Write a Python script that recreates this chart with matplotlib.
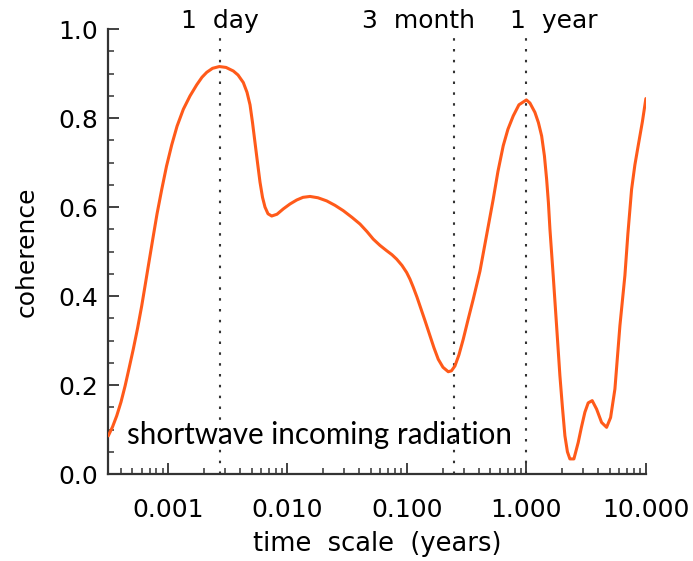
import matplotlib
matplotlib.use("Agg")
import matplotlib.pyplot as plt
from matplotlib.ticker import FixedLocator, LogLocator, NullFormatter, MultipleLocator

# Coherence spectrum of shortwave incoming radiation versus time scale
time_scale_years = [
    3.163e-4, 3.43e-4, 3.72e-4, 4.04e-4, 4.37e-4, 4.72e-4, 5.12e-4, 5.56e-4,
    6.02e-4, 6.42e-4, 6.84e-4, 7.45e-4, 8.09e-4, 8.86e-4, 9.71e-4,
    1.074e-3, 1.19e-3, 1.343e-3, 1.528e-3, 1.739e-3, 1.925e-3, 2.108e-3,
    2.357e-3, 2.688e-3, 3.058e-3, 3.519e-3, 3.853e-3, 4.267e-3, 4.583e-3,
    4.856e-3, 5.095e-3, 5.346e-3, 5.610e-3, 5.887e-3, 6.178e-3, 6.482e-3,
    6.868e-3, 7.375e-3, 8.168e-3, 9.224e-3,
    1.049e-2, 1.194e-2, 1.348e-2, 1.543e-2, 1.800e-2, 2.128e-2, 2.498e-2,
    2.931e-2, 3.465e-2, 4.044e-2, 4.627e-2, 5.224e-2, 5.943e-2, 6.764e-2,
    7.491e-2, 8.202e-2, 9.082e-2, 9.943e-2,
    0.1060, 0.1129, 0.1212, 0.1285, 0.1415, 0.1558, 0.1682, 0.1828, 0.2002,
    0.2216, 0.2357, 0.2521, 0.2724, 0.2959, 0.3240, 0.3588, 0.4083, 0.4627,
    0.5276, 0.5775, 0.6396, 0.7002, 0.7755, 0.8655,
    1.0, 1.070, 1.178, 1.260, 1.341, 1.415, 1.476, 1.528, 1.573, 1.676,
    1.789, 1.907, 2.002, 2.100, 2.204, 2.312, 2.497, 2.714, 2.886, 3.087,
    3.290, 3.553, 3.868, 4.259, 4.690, 5.066, 5.505, 6.060, 6.673, 7.070,
    7.593, 8.091, 8.622, 9.350, 10.0,
]
coherence = [
    0.086, 0.106, 0.131, 0.162, 0.198, 0.238, 0.281, 0.328,
    0.378, 0.423, 0.468, 0.528, 0.585, 0.640, 0.692,
    0.740, 0.782, 0.820, 0.850, 0.875, 0.892, 0.903,
    0.912, 0.916, 0.914, 0.906, 0.897, 0.880, 0.858,
    0.830, 0.790, 0.745, 0.700, 0.656, 0.622, 0.600,
    0.585, 0.580, 0.584, 0.596,
    0.607, 0.616, 0.622, 0.624, 0.621, 0.614, 0.604,
    0.592, 0.577, 0.562, 0.545, 0.528, 0.514, 0.502,
    0.493, 0.483, 0.469, 0.453,
    0.438, 0.420, 0.398, 0.378, 0.345, 0.311, 0.284, 0.258, 0.240,
    0.230, 0.232, 0.243, 0.268, 0.303, 0.346, 0.393, 0.456, 0.535,
    0.618, 0.680, 0.738, 0.775, 0.805, 0.830,
    0.841, 0.834, 0.813, 0.790, 0.760, 0.715, 0.663, 0.610, 0.551, 0.446,
    0.333, 0.221, 0.150, 0.086, 0.050, 0.034, 0.034, 0.071, 0.105, 0.139,
    0.160, 0.165, 0.146, 0.116, 0.105, 0.127, 0.191, 0.333, 0.446, 0.540,
    0.640, 0.695, 0.738, 0.792, 0.844,
]

# Reference time scales marked with dotted lines (years)
marker_scales = [1 / 365.0, 0.25, 1.0]
marker_labels = ["1  day", "3  month", "1  year"]
marker_offsets_pt = [0, -26, 20]

x_ticks = [0.001, 0.01, 0.1, 1.0, 10.0]
x_tick_labels = ["0.001", "0.010", "0.100", "1.000", "10.000"]
y_ticks = [0.0, 0.2, 0.4, 0.6, 0.8, 1.0]
y_tick_labels = ["0.0", "0.2", "0.4", "0.6", "0.8", "1.0"]

axis_color = "#333333"
curve_color = "#ff5a1a"

fig = plt.figure(figsize=(6.93, 5.61), dpi=100)
ax = fig.add_axes([0.156, 0.155, 0.776, 0.793])

ax.plot(time_scale_years, coherence, color=curve_color, lw=2.2,
        solid_joinstyle="round", solid_capstyle="round", zorder=3)

for xv, lab, off in zip(marker_scales, marker_labels, marker_offsets_pt):
    ax.plot([xv, xv], [0.0, 0.982], color=axis_color, lw=1.5,
            linestyle=(0, (1.2, 4.0)), zorder=2)
    ax.annotate(lab, xy=(xv, 1.0), xycoords="data",
                xytext=(off, 0.5), textcoords="offset points",
                ha="center", va="baseline", fontsize=18, color="black",
                annotation_clip=False)

ax.text(4.54e-4, 0.068, "shortwave incoming radiation", fontsize=21.3,
        family="Lato", color="black", ha="left", va="baseline")

ax.set_xscale("log")
ax.set_xlim(3.15e-4, 10.0)
ax.set_ylim(0.0, 1.0)

ax.xaxis.set_major_locator(FixedLocator(x_ticks))
ax.set_xticklabels(x_tick_labels)
ax.xaxis.set_minor_locator(LogLocator(base=10, subs=range(2, 10), numticks=20))
ax.xaxis.set_minor_formatter(NullFormatter())

ax.yaxis.set_major_locator(FixedLocator(y_ticks))
ax.set_yticklabels(y_tick_labels)
ax.yaxis.set_minor_locator(MultipleLocator(0.05))

for s in ["top", "right"]:
    ax.spines[s].set_visible(False)
for s in ["left", "bottom"]:
    ax.spines[s].set_color(axis_color)
    ax.spines[s].set_linewidth(1.6)

ax.tick_params(axis="x", which="major", direction="in", length=8, width=1.3,
               color=axis_color, labelsize=18, pad=17)
ax.tick_params(axis="x", which="minor", direction="in", length=4.5, width=1.1,
               color=axis_color)
ax.tick_params(axis="y", which="major", direction="in", length=8, width=1.3,
               color=axis_color, labelsize=18, pad=7)
ax.tick_params(axis="y", which="minor", direction="in", length=4.5, width=1.1,
               color=axis_color)

ax.set_xlabel("time  scale  (years)", fontsize=18.5, labelpad=7)
ax.set_ylabel("coherence", fontsize=18, labelpad=14)

fig.savefig("out.png", dpi=100)
